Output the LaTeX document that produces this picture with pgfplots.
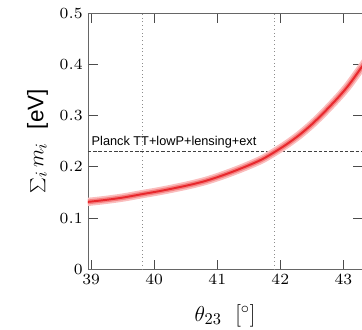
\documentclass[border=0pt]{standalone}
\usepackage{fontspec}
\setsansfont{Liberation Sans}
\usepackage{pgfplots}
\pgfplotsset{compat=1.18}
\usepackage{pgfplotstable}
\pgfplotstableread{
x y
38.90 0.131
39.20 0.135
39.50 0.140
39.82 0.147
40.10 0.153
40.50 0.163
40.80 0.172
41.10 0.184
41.40 0.198
41.70 0.214
41.91 0.229
42.10 0.244
42.30 0.262
42.50 0.283
42.70 0.307
42.93 0.337
43.10 0.362
43.35 0.405
}\curve
\definecolor{bandouter}{RGB}{250,190,190}
\definecolor{bandmid}{RGB}{245,130,130}
\definecolor{bandcore}{RGB}{232,40,45}
\begin{document}
\begin{tikzpicture}
\begin{axis}[
  scale only axis, width=183pt, height=171pt,
  xmin=38.95, xmax=43.3, ymin=0, ymax=0.5,
  xtick={39,40,41,42,43}, ytick={0,0.1,0.2,0.3,0.4,0.5},
  xticklabel={\scalebox{1.48}{\scriptsize$\pgfmathprintnumber{\tick}$}},
  yticklabel={\scalebox{1.48}{\scriptsize$\pgfmathprintnumber{\tick}$}},
  tick align=inside, major tick length=6.5pt,
  axis line style={black!60, line width=0.6pt},
  tick style={black!70, line width=0.6pt},
  xlabel={$\theta_{23}$\ \ [$^\circ$]},
  ylabel={$\sum_i m_i$\ \ \textsf{[eV]}},
  label style={font=\fontsize{15}{18}\selectfont},
  xlabel style={yshift=-6.5pt},
  ylabel style={yshift=1pt},
]
\addplot[black!45, dotted, line width=0.5pt] coordinates {(39.82,0) (39.82,0.5)};
\addplot[black!45, dotted, line width=0.5pt] coordinates {(41.91,0) (41.91,0.5)};
\addplot[black!75, line width=1.1pt, dash pattern=on 2.2pt off 1.3pt] coordinates {(38.95,0.23) (43.3,0.23)};
\addplot[bandouter, line width=5.5pt, smooth] table {\curve};
\addplot[bandmid, line width=3.2pt, smooth] table {\curve};
\addplot[bandcore, line width=1.3pt, smooth] table {\curve};
\node[anchor=south west, font=\sffamily\fontsize{8.5}{10}\selectfont, inner sep=1pt] at (axis cs:38.98,0.233) {Planck TT+lowP+lensing+ext};
\end{axis}
\pgfresetboundingbox
\path[use as bounding box] ([xshift=-58.7pt,yshift=-40pt]current axis.south west) rectangle ([xshift=-0.2pt,yshift=8.7pt]current axis.north east);
\end{tikzpicture}
\end{document}
